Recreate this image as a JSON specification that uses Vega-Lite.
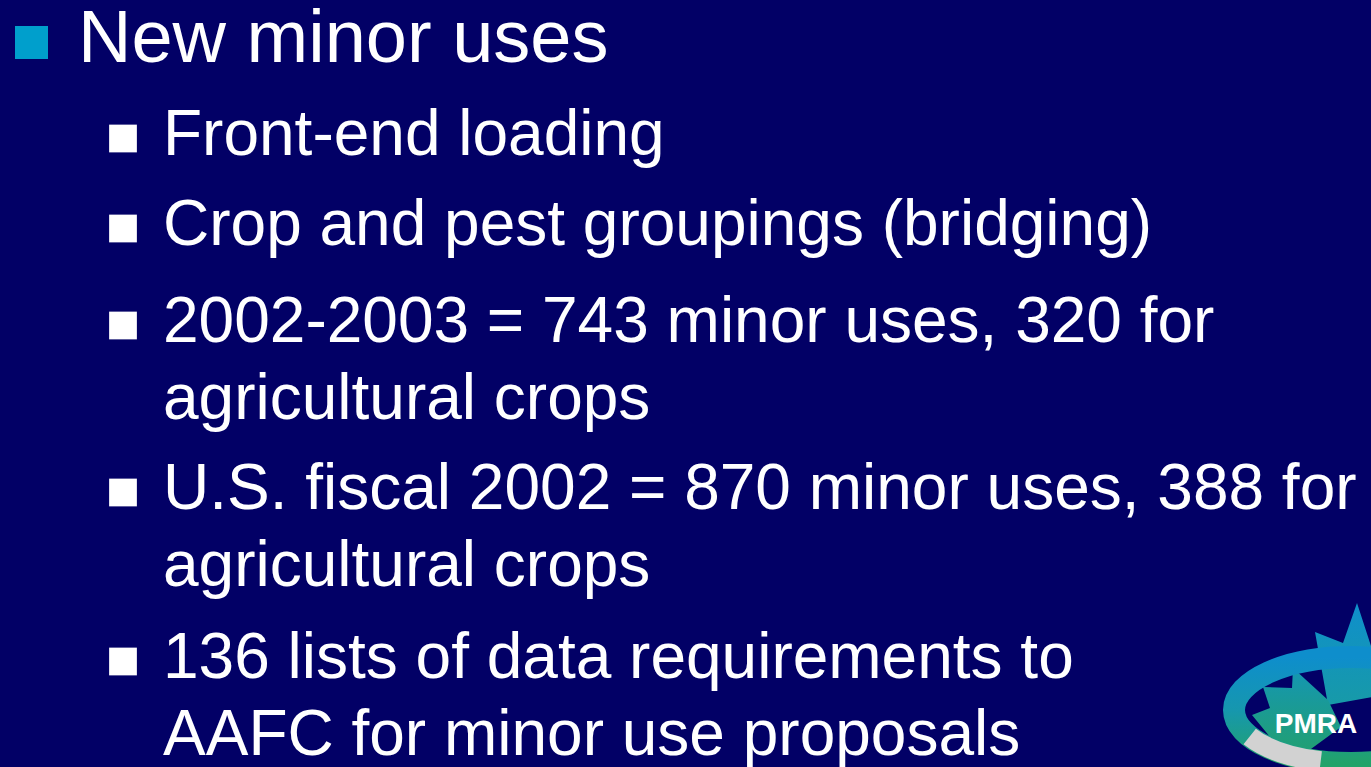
{
  "$schema": "https://vega.github.io/schema/vega-lite/v6.json",
  "width": 1371,
  "height": 767,
  "autosize": "none",
  "padding": 0,
  "background": "#020066",
  "config": {"view": {"stroke": null}},
  "datasets": {
    "slide": [
      {"line": 0, "level": 1, "bullet": true, "text": "New minor uses"},
      {"line": 1, "level": 2, "bullet": true, "text": "Front-end loading"},
      {"line": 2, "level": 2, "bullet": true, "text": "Crop and pest groupings (bridging)"},
      {"line": 3, "level": 2, "bullet": true, "text": "2002-2003 = 743 minor uses, 320 for"},
      {"line": 4, "level": 2, "bullet": false, "text": "agricultural crops"},
      {"line": 5, "level": 2, "bullet": true, "text": "U.S. fiscal 2002 = 870 minor uses, 388 for"},
      {"line": 6, "level": 2, "bullet": false, "text": "agricultural crops"},
      {"line": 7, "level": 2, "bullet": true, "text": "136 lists of data requirements to"},
      {"line": 8, "level": 2, "bullet": false, "text": "AAFC for minor use proposals"}
    ],
    "logo": [{"name": "PMRA"}]
  },
  "layer": [
    {
      "data": {"name": "logo"},
      "mark": {
        "type": "point",
        "shape": "M -0.14 -1.64 L 0.02 -1.15 L 0.02 -0.7 L -0.43 -0.62 L -0.56 -1.35 L -0.28 -1.24 Z",
        "size": 40000,
        "filled": true,
        "opacity": 1,
        "fill": {"gradient": "linear", "x1": 0, "y1": 0, "x2": 0, "y2": 1,
          "stops": [{"offset": 0, "color": "#0F8FCC"}, {"offset": 1, "color": "#179AA8"}]}
      },
      "encoding": {"x": {"value": "width"}, "y": {"value": "height"}}
    },
    {
      "data": {"name": "logo"},
      "mark": {
        "type": "point",
        "shape": "M -1.08 -0.8 L -0.79 -0.79 L -0.78 -0.99 L -0.43 -0.67 L -0.3 -0.4 L -0.71 -0.1 L -1.01 -0.3 L -1.19 -0.52 L -1.01 -0.59 Z",
        "size": 40000,
        "filled": true,
        "opacity": 1,
        "fill": {"gradient": "linear", "x1": 0, "y1": 0, "x2": 0, "y2": 1,
          "stops": [{"offset": 0, "color": "#1496B4"}, {"offset": 1, "color": "#22A06E"}]}
      },
      "encoding": {"x": {"value": "width"}, "y": {"value": "height"}}
    },
    {
      "data": {"name": "logo"},
      "mark": {
        "type": "point",
        "shape": "M -1.37 -0.57 A 1.17 0.53 0 1 1 0.97 -0.57 A 1.17 0.53 0 1 1 -1.37 -0.57 Z",
        "size": 40000,
        "filled": false,
        "opacity": 1,
        "fillOpacity": 0,
        "strokeWidth": 22,
        "stroke": {"gradient": "linear", "x1": 0, "y1": 0, "x2": 0, "y2": 1,
          "stops": [{"offset": 0, "color": "#0E8ECC"}, {"offset": 0.5, "color": "#1697AE"}, {"offset": 1, "color": "#22A36A"}]}
      },
      "encoding": {"x": {"value": "width"}, "y": {"value": "height"}}
    },
    {
      "data": {"name": "logo"},
      "mark": {
        "type": "point",
        "shape": "M -1.213 -0.305 A 1.17 0.53 0 0 0 -0.503 -0.058",
        "size": 40000,
        "filled": false,
        "opacity": 1,
        "fillOpacity": 0,
        "strokeWidth": 20,
        "stroke": "#D2D2D2"
      },
      "encoding": {"x": {"value": "width"}, "y": {"value": "height"}}
    },
    {
      "data": {"name": "logo"},
      "mark": {
        "type": "text",
        "font": "Liberation Sans",
        "fontWeight": "bold",
        "fontSize": 28,
        "color": "#FFFFFF",
        "align": "center",
        "baseline": "alphabetic",
        "dx": -55,
        "dy": -34
      },
      "encoding": {"x": {"value": "width"}, "y": {"value": "height"}, "text": {"field": "name"}}
    },
    {
      "data": {"name": "slide"},
      "transform": [{"filter": "datum.bullet && datum.level == 1"}],
      "mark": {"type": "point", "shape": "square", "filled": true, "opacity": 1, "size": 1089, "color": "#009FCC", "xOffset": -46.5, "yOffset": -19.5},
      "encoding": {
        "x": {"field": "level", "type": "quantitative", "scale": {"domain": [1, 2], "range": [78, 163], "zero": false, "nice": false}, "axis": null},
        "y": {"field": "line", "type": "quantitative", "scale": {"domain": [0, 1, 2, 3, 4, 5, 6, 7, 8], "range": [62, 155, 245, 342, 419, 509, 586, 678, 755], "zero": false, "nice": false}, "axis": null}
      }
    },
    {
      "data": {"name": "slide"},
      "transform": [{"filter": "datum.bullet && datum.level == 2"}],
      "mark": {"type": "point", "shape": "square", "filled": true, "opacity": 1, "size": 770, "color": "#FFFFFF", "xOffset": -40, "yOffset": -16.5},
      "encoding": {
        "x": {"field": "level", "type": "quantitative", "scale": {"domain": [1, 2], "range": [78, 163], "zero": false, "nice": false}, "axis": null},
        "y": {"field": "line", "type": "quantitative", "scale": {"domain": [0, 1, 2, 3, 4, 5, 6, 7, 8], "range": [62, 155, 245, 342, 419, 509, 586, 678, 755], "zero": false, "nice": false}, "axis": null}
      }
    },
    {
      "data": {"name": "slide"},
      "transform": [{"filter": "datum.level == 1"}],
      "mark": {"type": "text", "align": "left", "baseline": "alphabetic", "font": "Liberation Sans", "fontSize": 74, "color": "#FFFFFF"},
      "encoding": {
        "x": {"field": "level", "type": "quantitative", "scale": {"domain": [1, 2], "range": [78, 163], "zero": false, "nice": false}, "axis": null},
        "y": {"field": "line", "type": "quantitative", "scale": {"domain": [0, 1, 2, 3, 4, 5, 6, 7, 8], "range": [62, 155, 245, 342, 419, 509, 586, 678, 755], "zero": false, "nice": false}, "axis": null},
        "text": {"field": "text"}
      }
    },
    {
      "data": {"name": "slide"},
      "transform": [{"filter": "datum.level == 2"}],
      "mark": {"type": "text", "align": "left", "baseline": "alphabetic", "font": "Liberation Sans", "fontSize": 64, "color": "#FFFFFF"},
      "encoding": {
        "x": {"field": "level", "type": "quantitative", "scale": {"domain": [1, 2], "range": [78, 163], "zero": false, "nice": false}, "axis": null},
        "y": {"field": "line", "type": "quantitative", "scale": {"domain": [0, 1, 2, 3, 4, 5, 6, 7, 8], "range": [62, 155, 245, 342, 419, 509, 586, 678, 755], "zero": false, "nice": false}, "axis": null},
        "text": {"field": "text"}
      }
    }
  ]
}
